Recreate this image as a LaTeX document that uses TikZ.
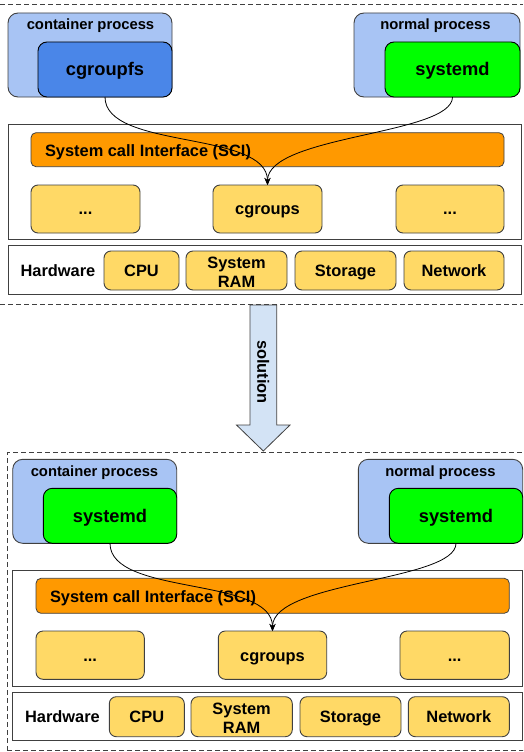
\documentclass[tikz,border=0pt]{standalone}
\usepackage{fontspec}
\setmainfont{Liberation Sans}
\usetikzlibrary{arrows.meta}
\definecolor{procblue}{HTML}{A8C4F4}
\definecolor{fsblue}{HTML}{4A86E8}
\definecolor{sdgreen}{HTML}{00FF00}
\definecolor{sciorange}{HTML}{FF9900}
\definecolor{kyellow}{HTML}{FFD966}
\definecolor{arrowblue}{HTML}{D3E3F5}
\definecolor{edgegray}{HTML}{404040}
\begin{document}
\begin{tikzpicture}[x=1pt,y=-1pt,
  every node/.style={inner sep=0pt, outer sep=0pt, font=\bfseries},
  procbox/.style={draw=edgegray, line width=0.9pt, fill=procblue, rounded corners=10pt},
  innerbox/.style={draw=black, line width=0.9pt, rounded corners=9pt, text height=13pt, text depth=0pt, font=\fontsize{18.3}{20}\selectfont\bfseries},
  plbl/.style={text height=10.6pt, text depth=0pt, font=\fontsize{14.8}{17}\selectfont\bfseries},
  frame/.style={draw=edgegray, line width=0.9pt, fill=white},
  scibar/.style={draw=edgegray, line width=0.8pt, fill=sciorange, rounded corners=5pt},
  ybox/.style={draw=edgegray, line width=0.9pt, fill=kyellow, rounded corners=7pt, align=center, font=\fontsize{16.4}{18.5}\selectfont\bfseries},
  ybt/.style={ybox, text height=11.7pt, text depth=0pt},
  ktext/.style={text height=11.7pt, text depth=0pt, font=\fontsize{16.4}{18.5}\selectfont\bfseries},
  conn/.style={draw=black, line width=0.8pt, -{Stealth[length=7pt,width=6pt]}},
  sep/.style={draw=edgegray, line width=0.8pt, dash pattern=on 5pt off 3pt}
]
\useasboundingbox (0,0) rectangle (523,752);
\clip (0,0) rectangle (523,752);

% ---------- separators ----------
\draw[sep] (0,4) -- (523,4);
\draw[sep] (0,304.5) -- (523,304.5);
\draw[sep] (7.3,750.7) -- (7.3,452.7) -- (540,452.7);
\draw[sep] (7.3,750.7) -- (540,750.7);

% ---------- top half ----------
\node[procbox, minimum width=164, minimum height=84] (tcp) at (90,55) {};
\node[plbl] (tcpl) at (90.5,24.7) {container process};
\node[innerbox, fill=fsblue, minimum width=134, minimum height=55] (tcgfs) at (105,69.5) {cgroupfs};
\node[procbox, minimum width=166, minimum height=84] (tnp) at (437,55) {};
\node[plbl] (tnpl) at (435.5,24.7) {normal process};
\node[innerbox, fill=sdgreen, minimum width=135, minimum height=55] (tsd) at (452.5,69.5) {systemd};

\node[frame, minimum width=513, minimum height=115] (tkern) at (264.5,181.5) {};
\node[scibar, minimum width=473, minimum height=34] (tsci) at (267.5,149.7) {};
\node[ktext, anchor=west] (tscit) at (45,150.8) {System call Interface (SCI)};
\node[ybt, minimum width=109, minimum height=48] (tb1) at (85.5,209) {...};
\node[ybt, minimum width=109, minimum height=48] (tcg) at (267.5,209) {cgroups};
\node[ybt, minimum width=108, minimum height=48] (tb3) at (450,209) {...};

\node[frame, minimum width=513, minimum height=48.3] (thw) at (264.5,269.9) {};
\node[ktext] (thwt) at (58,270.9) {Hardware};
\node[ybt, minimum width=75, minimum height=39] (tcpu) at (141.5,270.5) {CPU};
\node[ybox, minimum width=101, minimum height=39] (tram) at (236.5,270.5) {};
\node[align=center, font=\fontsize{16.4}{18.8}\selectfont\bfseries] (tramt) at (236.5,272) {System\\RAM};
\node[ybt, minimum width=101, minimum height=39] (tsto) at (345.5,270.5) {Storage};
\node[ybt, minimum width=100, minimum height=39] (tnet) at (454,270.5) {Network};

\draw[conn] (tcgfs.south) .. controls +(0,53) and +(0,-55) .. (tcg.north);
\draw[conn] (tsd.south) .. controls +(0,38) and +(0,-50) .. (tcg.north);

% ---------- solution arrow ----------
\draw[draw=edgegray, line width=0.8pt, fill=arrowblue]
  (250,305) -- (276.7,305) -- (276.7,425) -- (290,425) -- (263.3,451)
  -- (236.5,425) -- (250,425) -- cycle;
\node[ktext, text height=, rotate=-90] (sol) at (263.3,372) {solution};

% ---------- bottom half ----------
\node[procbox, minimum width=164, minimum height=84] (bcp) at (94.7,501.3) {};
\node[plbl] (bcpl) at (94.5,471.4) {container process};
\node[innerbox, fill=sdgreen, minimum width=133.4, minimum height=55] (bsd1) at (110,515.8) {systemd};
\node[procbox, minimum width=164.4, minimum height=84] (bnp) at (440.5,501.3) {};
\node[plbl] (bnpl) at (440.5,471.4) {normal process};
\node[innerbox, fill=sdgreen, minimum width=133.4, minimum height=55] (bsd2) at (456,515.8) {systemd};

\node[frame, minimum width=509.3, minimum height=115.3] (bkern) at (267.35,628.35) {};
\node[scibar, minimum width=473.3, minimum height=35] (bsci) at (272.65,595.8) {};
\node[ktext, anchor=west] (bscit) at (50,596.2) {System call Interface (SCI)};
\node[ybt, minimum width=108.3, minimum height=48.3] (bb1) at (90.15,655.15) {...};
\node[ybt, minimum width=108.4, minimum height=48.3] (bcg) at (272.5,655.15) {cgroups};
\node[ybt, minimum width=109.3, minimum height=48.3] (bb3) at (454.65,655.15) {...};

\node[frame, minimum width=509.3, minimum height=47.7] (bhw) at (267.35,716.15) {};
\node[ktext] (bhwt) at (62.5,717) {Hardware};
\node[ybt, minimum width=75, minimum height=40] (bcpu) at (146.8,716.7) {CPU};
\node[ybox, minimum width=101.3, minimum height=40] (bram) at (241.65,716.7) {};
\node[align=center, font=\fontsize{16.4}{18.8}\selectfont\bfseries] (bramt) at (241.65,718) {System\\RAM};
\node[ybt, minimum width=101, minimum height=40] (bsto) at (350.5,716.7) {Storage};
\node[ybt, minimum width=101, minimum height=40] (bnet) at (458.8,716.7) {Network};

\draw[conn] (bsd1.south) .. controls +(0,53) and +(0,-55) .. (bcg.north);
\draw[conn] (bsd2.south) .. controls +(0,38) and +(0,-50) .. (bcg.north);
\end{tikzpicture}
\end{document}
